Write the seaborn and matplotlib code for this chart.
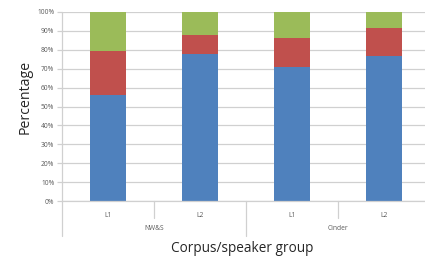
import numpy as np
import pandas as pd
import seaborn as sns
from matplotlib import pyplot as plt
from matplotlib import transforms

# values (percent of each bar)
groups = ["NW&S", "NW&S", "Cinder", "Cinder"]
speakers = ["L1", "L2", "L1", "L2"]
blue_vals = [56, 78, 71, 76.5]
red_vals = [23.5, 10, 15, 15]
green_vals = [20.5, 12, 14, 8.5]

colors = ["#4F81BD", "#C0504D", "#9BBB59"]
grid_col = "#D0D0D0"
text_col = "#595959"

df = pd.DataFrame({"group": groups, "speaker": speakers,
                   "blue": blue_vals, "red": red_vals, "green": green_vals})
df["cat"] = df["group"] + " " + df["speaker"]
df["c1"] = df["blue"]
df["c2"] = df["blue"] + df["red"]
df["c3"] = df["c2"] + df["green"]

sns.set_style("white")
plt.rcParams["font.family"] = ["Open Sans", "DejaVu Sans"]

fig = plt.figure(figsize=(4.25, 2.59), dpi=100)
ax = fig.add_axes([62 / 425, 58 / 259, 368 / 425, 189 / 259])

# stacked bars: draw cumulative totals, tallest first
for col, c in zip(["c3", "c2", "c1"], colors[::-1]):
    sns.barplot(data=df, x="cat", y=col, color=c, width=0.39, linewidth=0,
                saturation=1, ax=ax, order=list(df["cat"]), zorder=3)

ax.set_xlim(-0.5, 3.5)
ax.set_ylim(0, 100)
ax.set_yticks(np.arange(0, 101, 10))
ax.set_yticklabels([f"{v}%" for v in range(0, 101, 10)], fontsize=4.8, color=text_col)
ax.yaxis.grid(True, color=grid_col, lw=0.9, zorder=0)
ax.tick_params(axis="y", length=3.5, width=0.9, color=grid_col, pad=2, left=True)
ax.set_xticks(range(4))
ax.set_xticklabels(speakers, fontsize=4.8, color=text_col)
ax.tick_params(axis="x", length=0, pad=8)
for s in ["top", "right", "bottom", "left"]:
    ax.spines[s].set_visible(False)

# axis lines and category separators, Excel style
tr = transforms.blended_transform_factory(ax.transData, ax.transAxes)
ax.plot([-0.5, 3.5], [0, 0], transform=tr, color=grid_col, lw=0.9, clip_on=False, zorder=4)
for x, y0 in [(-0.5, -35 / 189), (0.5, -17 / 189), (1.5, -35 / 189),
              (2.5, -17 / 189), (3.5, -35 / 189)]:
    ax.plot([x, x], [y0, 1 if x == -0.5 else 0], transform=tr,
            color=grid_col, lw=0.9, clip_on=False, zorder=4)
for x, g in [(0.5, "NW&S"), (2.5, "Cinder")]:
    ax.text(x, -28 / 189, g, transform=tr, ha="center", va="center",
            fontsize=4.8, color=text_col)

ax.set_xlabel("")
ax.set_ylabel("")
fig.text(242 / 425, 1 - 248 / 259, "Corpus/speaker group", ha="center",
         va="center", fontsize=9.8, color="#262626")
fig.text(25 / 425, 1 - 97 / 259, "Percentage", ha="center", va="center",
         rotation=90, fontsize=10.2, color="#262626")

fig.savefig("out.png", dpi=100)
